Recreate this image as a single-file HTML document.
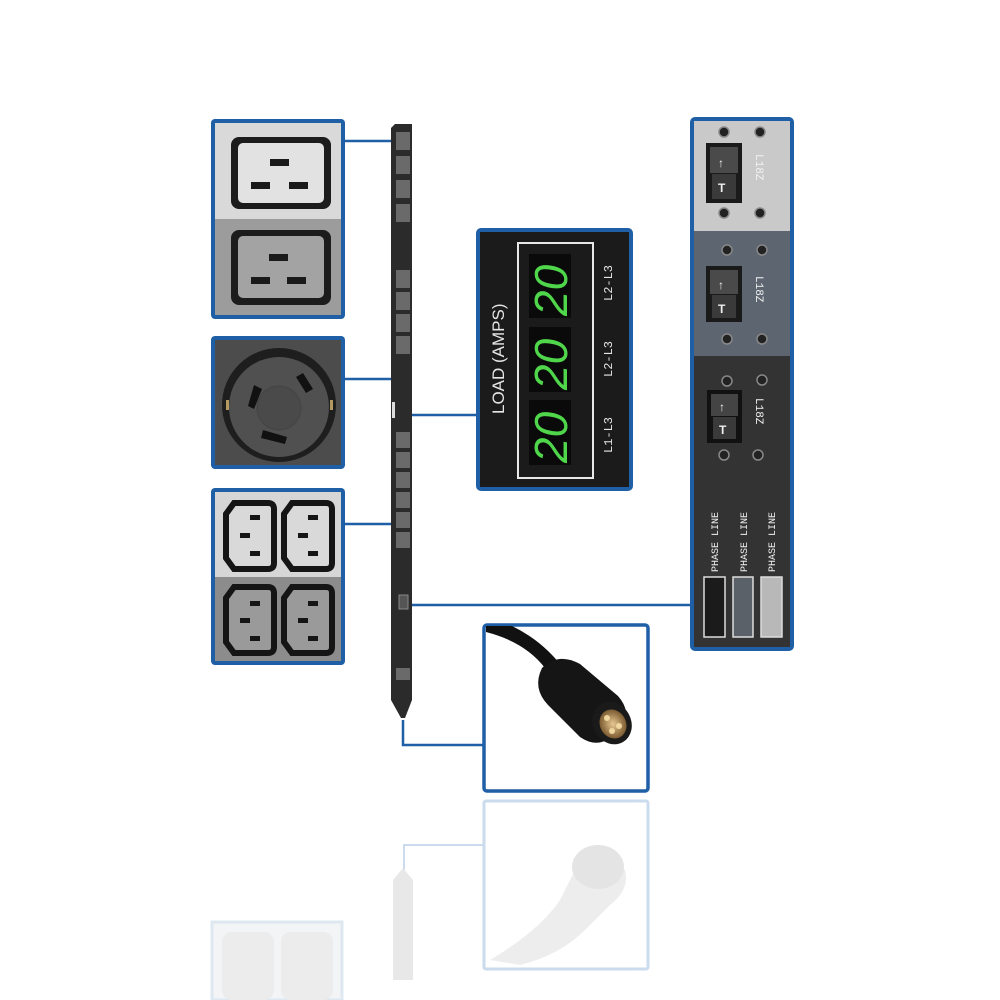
<!DOCTYPE html>
<html><head><meta charset="utf-8"><style>
html,body{margin:0;padding:0;background:#fff;}
svg{display:block;font-family:"Liberation Sans",sans-serif;}
</style></head><body>
<svg width="1000" height="1000" viewBox="0 0 1000 1000" xmlns="http://www.w3.org/2000/svg">
<defs>
<radialGradient id="brass" cx="0.5" cy="0.5" r="0.5"><stop offset="0" stop-color="#e8c890"/><stop offset="1" stop-color="#7a5a30"/></radialGradient>
</defs>
<rect width="1000" height="1000" fill="#fff"/>

<!-- reflections -->
<g opacity="0.9">
<rect x="484" y="801" width="164" height="168" fill="none" stroke="#c4d8ec" stroke-width="3" rx="2"/>
<polyline points="404,870 404,845 484,845" fill="none" stroke="#c4d8ec" stroke-width="2"/>
<path d="M393 980 L393 880 L403 868 L413 880 L413 980 Z" fill="#e6e6e6"/>
<path d="M490 960 Q540 930 560 900 L575 870 Q600 850 625 870 Q630 890 610 905 L585 930 Q560 955 520 965 Z" fill="#ececec"/>
<ellipse cx="598" cy="867" rx="26" ry="22" fill="#e2e2e2"/>
<rect x="212" y="922" width="130" height="78" fill="#f1f3f5" stroke="#dbe6f0" stroke-width="3"/>
<rect x="222" y="932" width="52" height="68" rx="10" fill="#eaeaea"/>
<rect x="281" y="932" width="52" height="68" rx="10" fill="#eaeaea"/>
</g>

<!-- connector lines -->
<g stroke="#1f5fa6" stroke-width="2.5" fill="none">
<line x1="344" y1="141" x2="392" y2="141"/>
<line x1="344" y1="379" x2="392" y2="379"/>
<line x1="344" y1="524" x2="392" y2="524"/>
<line x1="406" y1="415" x2="477" y2="415"/>
<line x1="406" y1="605" x2="691" y2="605"/>
<polyline points="403,720 403,745 485,745"/>
</g>

<!-- strip -->
<path d="M391 128 L395 124 L412 124 L412 700 L405 718 L401 718 L391 700 Z" fill="#2b2b2b"/>
<g fill="#6a6a6a">
<rect x="396" y="132" width="14" height="18"/><rect x="396" y="156" width="14" height="18"/>
<rect x="396" y="180" width="14" height="18"/><rect x="396" y="204" width="14" height="18"/>
<rect x="396" y="270" width="14" height="18"/><rect x="396" y="292" width="14" height="18"/>
<rect x="396" y="314" width="14" height="18"/><rect x="396" y="336" width="14" height="18"/>
<rect x="396" y="432" width="14" height="16"/><rect x="396" y="452" width="14" height="16"/>
<rect x="396" y="472" width="14" height="16"/><rect x="396" y="492" width="14" height="16"/>
<rect x="396" y="512" width="14" height="16"/><rect x="396" y="532" width="14" height="16"/>
<rect x="396" y="668" width="14" height="12"/>
</g>
<rect x="392" y="402" width="3" height="16" fill="#ddd"/>
<rect x="399" y="595" width="9" height="14" fill="#555" stroke="#888"/>

<!-- box1 C19 -->
<rect x="211" y="119" width="134" height="200" rx="4" fill="#1f5fa6"/>
<rect x="215" y="123" width="126" height="96" fill="#d9d9d9"/>
<rect x="215" y="219" width="126" height="96" fill="#9c9c9c"/>
<rect x="231" y="137" width="100" height="72" rx="8" fill="#1c1c1c"/>
<rect x="238" y="143" width="86" height="60" rx="5" fill="#e2e2e2"/>
<rect x="270" y="159" width="19" height="7" fill="#1a1a1a"/><rect x="251" y="182" width="19" height="7" fill="#1a1a1a"/><rect x="289" y="182" width="19" height="7" fill="#1a1a1a"/>
<rect x="231" y="230" width="100" height="75" rx="8" fill="#1c1c1c"/>
<rect x="238" y="236" width="86" height="62" rx="5" fill="#a3a3a3"/>
<rect x="269" y="254" width="19" height="7" fill="#1a1a1a"/><rect x="251" y="277" width="19" height="7" fill="#1a1a1a"/><rect x="287" y="277" width="19" height="7" fill="#1a1a1a"/>

<!-- box2 twist lock -->
<rect x="211" y="336" width="134" height="133" rx="4" fill="#1f5fa6"/>
<rect x="215" y="340" width="126" height="125" fill="#4c4c4c"/>
<circle cx="279" cy="405" r="57" fill="#1e1e1e"/>
<circle cx="279" cy="407" r="50" fill="#505050"/>
<circle cx="279" cy="408" r="22" fill="#4a4a4a" stroke="#444"/>
<path d="M254 385 l8 4 l-8 20 l-6 -3 z" fill="#111"/>
<path d="M296 377 l7 -4 l10 16 l-7 4 z" fill="#111"/>
<path d="M263 430 l24 7 l-2 7 l-24 -6 z" fill="#111"/>
<rect x="226" y="400" width="3" height="10" fill="#b49a60"/><rect x="330" y="400" width="3" height="10" fill="#b49a60"/>

<!-- box3 C13 -->
<rect x="211" y="488" width="134" height="177" rx="4" fill="#1f5fa6"/>
<rect x="215" y="492" width="126" height="85" fill="#d6d6d6"/>
<rect x="215" y="577" width="126" height="84" fill="#8c8c8c"/>
<g fill="#d9d9d9" stroke="#151515" stroke-width="6">
<path d="M234 503 H268 Q274 503 274 509 V563 Q274 569 268 569 H234 L226 558 V514 Z"/>
<path d="M292 503 H326 Q332 503 332 509 V563 Q332 569 326 569 H292 L284 558 V514 Z"/>
</g>
<g fill="#9a9a9a" stroke="#151515" stroke-width="6">
<path d="M234 587 H268 Q274 587 274 593 V647 Q274 653 268 653 H234 L226 642 V598 Z"/>
<path d="M292 587 H326 Q332 587 332 593 V647 Q332 653 326 653 H292 L284 642 V598 Z"/>
</g>
<g fill="#151515">
<rect x="250" y="515" width="10" height="5"/><rect x="240" y="533" width="10" height="5"/><rect x="250" y="551" width="10" height="5"/>
<rect x="308" y="515" width="10" height="5"/><rect x="298" y="533" width="10" height="5"/><rect x="308" y="551" width="10" height="5"/>
<rect x="250" y="601" width="10" height="5"/><rect x="240" y="618" width="10" height="5"/><rect x="250" y="636" width="10" height="5"/>
<rect x="308" y="601" width="10" height="5"/><rect x="298" y="618" width="10" height="5"/><rect x="308" y="636" width="10" height="5"/>
</g>

<!-- display -->
<rect x="476" y="228" width="157" height="263" rx="5" fill="#1f5fa6"/>
<rect x="480" y="232" width="149" height="255" fill="#1b1b1b"/>
<rect x="518" y="243" width="75" height="235" fill="none" stroke="#e8e8e8" stroke-width="2"/>
<rect x="529" y="254" width="42" height="64" fill="#0a0a0a"/>
<rect x="529" y="327" width="42" height="65" fill="#0a0a0a"/>
<rect x="529" y="400" width="42" height="65" fill="#0a0a0a"/>
<g fill="#4fd64a" font-size="46" font-family="Liberation Sans,sans-serif" font-style="italic">
<text transform="translate(567,316) rotate(-90)">20</text>
<text transform="translate(567,390) rotate(-90)">20</text>
<text transform="translate(567,463) rotate(-90)">20</text>
</g>
<text transform="translate(504,414) rotate(-90)" fill="#e6e6e6" font-size="17">LOAD (AMPS)</text>
<g fill="#e6e6e6" font-size="12" font-family="Liberation Mono,monospace">
<text transform="translate(612,301) rotate(-90)">L2-L3</text>
<text transform="translate(612,377) rotate(-90)">L2-L3</text>
<text transform="translate(612,453) rotate(-90)">L1-L3</text>
</g>

<!-- right panel -->
<rect x="690" y="117" width="104" height="534" rx="5" fill="#1f5fa6"/>
<rect x="694" y="121" width="96" height="110" fill="#c9c9c9"/>
<rect x="694" y="231" width="96" height="125" fill="#5d6570"/>
<rect x="694" y="356" width="96" height="291" fill="#333333"/>
<g>
<rect x="706" y="143" width="36" height="60" fill="#1a1a1a"/><rect x="710" y="147" width="28" height="26" fill="#4a4a4a"/><rect x="712" y="174" width="24" height="25" fill="#3a3a3a"/>
<rect x="706" y="266" width="36" height="56" fill="#1a1a1a"/><rect x="710" y="270" width="28" height="24" fill="#4a4a4a"/><rect x="712" y="295" width="24" height="23" fill="#3a3a3a"/>
<rect x="707" y="390" width="35" height="53" fill="#111"/><rect x="711" y="394" width="27" height="22" fill="#444"/><rect x="713" y="417" width="23" height="22" fill="#3a3a3a"/>
</g>
<g fill="#eee" font-size="12" font-weight="bold">
<text x="718" y="167">↑</text><text x="718" y="192">T</text>
<text x="718" y="289">↑</text><text x="718" y="313">T</text>
<text x="719" y="411">↑</text><text x="719" y="434">T</text>
</g>
<g fill="#f2f2f2" font-size="11" font-family="Liberation Mono,monospace">
<text transform="translate(756,154) rotate(90)">L18Z</text>
<text transform="translate(756,276) rotate(90)">L18Z</text>
<text transform="translate(756,398) rotate(90)">L18Z</text>
</g>
<g fill="#222" stroke="#888" stroke-width="1.5">
<circle cx="724" cy="132" r="5"/><circle cx="760" cy="132" r="5"/><circle cx="724" cy="213" r="5"/><circle cx="760" cy="213" r="5"/>
<circle cx="727" cy="250" r="5"/><circle cx="762" cy="250" r="5"/><circle cx="727" cy="339" r="5"/><circle cx="762" cy="339" r="5"/>
<circle cx="727" cy="381" r="5"/><circle cx="762" cy="380" r="5"/><circle cx="724" cy="455" r="5"/><circle cx="758" cy="455" r="5"/>
</g>
<g fill="#eee" font-size="10" font-family="Liberation Mono,monospace">
<text transform="translate(718,572) rotate(-90)">PHASE LINE</text>
<text transform="translate(747,572) rotate(-90)">PHASE LINE</text>
<text transform="translate(775,572) rotate(-90)">PHASE LINE</text>
</g>
<rect x="704" y="577" width="21" height="60" fill="#1b1b1b" stroke="#ddd" stroke-width="1.5"/>
<rect x="733" y="577" width="20" height="60" fill="#5b6168" stroke="#ddd" stroke-width="1.5"/>
<rect x="761" y="577" width="21" height="60" fill="#b8b8b8" stroke="#ddd" stroke-width="1.5"/>

<!-- plug box -->
<rect x="484" y="625" width="164" height="166" rx="3" fill="#fff" stroke="#1f5fa6" stroke-width="3.5"/>
<path d="M486 632 Q525 642 545 668 L556 682 L566 672 Q545 642 512 626 L486 626 Z" fill="#111"/>
<path d="M542 668 Q558 652 580 664 L618 696 Q632 712 622 728 L610 738 Q596 748 580 737 L548 705 Q532 688 542 668 Z" fill="#151515"/>
<ellipse cx="612" cy="723" rx="19" ry="22" transform="rotate(-30 612 723)" fill="#1a1a1a"/>
<ellipse cx="613" cy="724" rx="13" ry="15" transform="rotate(-30 613 724)" fill="url(#brass)"/>
<circle cx="607" cy="718" r="3" fill="#f0d7a0"/><circle cx="619" cy="726" r="3" fill="#f0d7a0"/><circle cx="612" cy="731" r="3" fill="#f0d7a0"/>
</svg>
</body></html>
